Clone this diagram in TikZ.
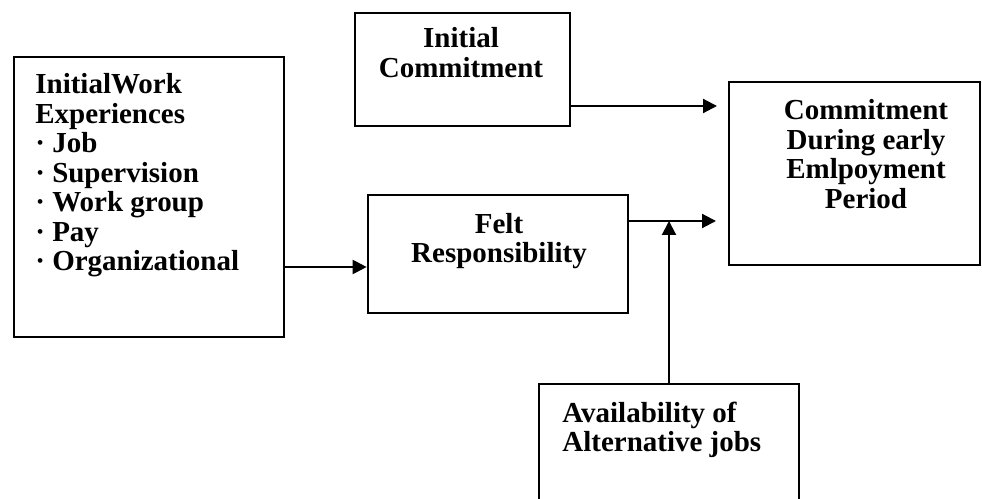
\documentclass[tikz,border=0pt]{standalone}
\usepackage{fontspec}
\setmainfont{Liberation Serif}
\usetikzlibrary{arrows.meta}
\tikzset{
  box/.style={draw, line width=1.5pt, inner sep=0pt},
  lbl/.style={font=\bfseries\fontsize{16.5}{16.8}\selectfont, inner sep=0pt},
  arr/.style={line width=1.2pt, -{Triangle[length=2.8mm,width=2.8mm]}}
}
\begin{document}
\begin{tikzpicture}
\useasboundingbox (0,0) rectangle (19.64,9.96);
\clip (0,0) rectangle (19.64,9.96);
% boxes
\node[box, minimum width=5.4cm, minimum height=5.6cm] (exp) at (2.98,6.02) {};
\node[box, minimum width=4.3cm, minimum height=2.26cm] (init) at (9.25,8.57) {};
\node[box, minimum width=5.2cm, minimum height=2.36cm] (felt) at (9.96,4.88) {};
\node[box, minimum width=5.02cm, minimum height=3.66cm] (comm) at (17.09,6.49) {};
\node[box, minimum width=5.2cm, minimum height=2.52cm] (avail) at (13.38,1.02) {};
% texts
\node[lbl, anchor=west, align=left] (expT) at (0.7,6.45) {InitialWork\\Experiences\\· Job\\· Supervision\\· Work group\\· Pay\\· Organizational};
\node[lbl, align=center] (initT) at (9.22,8.91) {Initial\\Commitment};
\node[lbl, align=center] (feltT) at (9.98,5.14) {Felt\\Responsibility};
\node[lbl, align=center] (commT) at (17.32,6.88) {Commitment\\During early\\Emlpoyment\\Period};
\node[lbl, anchor=west, align=left] (availT) at (11.24,1.36) {Availability of\\Alternative jobs};
% arrows
\coordinate (c1) at (14.34,7.84);
\coordinate (c2) at (14.32,5.54);
\coordinate (c3) at (7.36,4.62);
\draw[arr] (init.east |- c1) -- (c1);
\draw[arr] (felt.east |- c2) -- (c2);
\draw[arr] (exp.east |- c3) -- (felt.west |- c3);
\draw[arr] (avail.north) -- (avail.north |- c2);
\end{tikzpicture}
\end{document}
